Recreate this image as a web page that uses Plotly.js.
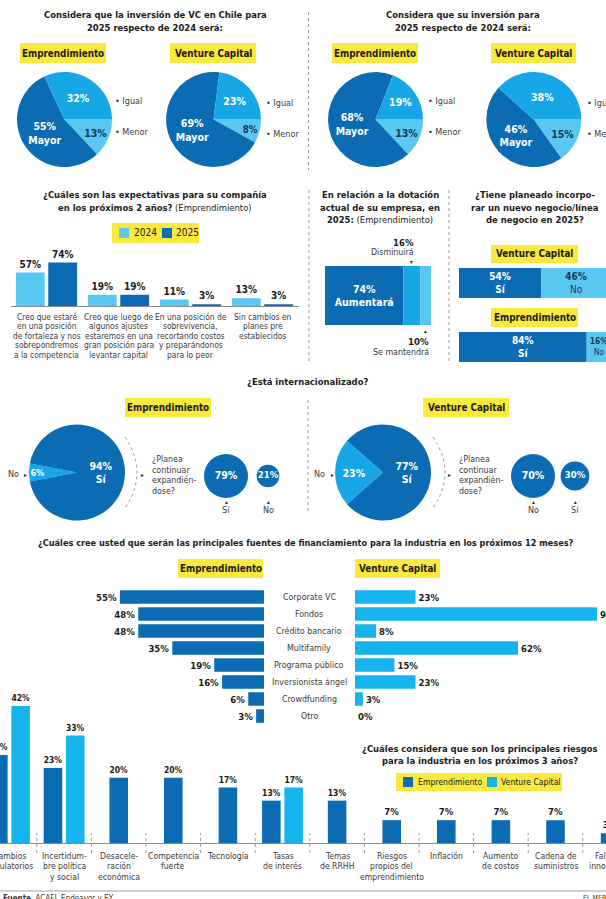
<!DOCTYPE html>
<html><head><meta charset="utf-8">
<script src="https://cdn.plot.ly/plotly-3.0.1.min.js"></script>
<style>
html,body{margin:0;padding:0;overflow:hidden;background:#fff;width:606px;height:899px}
#chart{position:absolute;left:-40px;top:0;width:686px;height:899px}
</style>
</head><body><div id="chart"></div>
<script>
// ---------------- DATA ----------------
const pieLabels = ['Menor', 'Mayor', 'Igual'];
const invChileEmp = [13, 55, 32];
const invChileVC = [8, 69, 23];
const invOwnEmp = [13, 68, 19];
const invOwnVC = [15, 46, 38];

const expCategories = [
  ['Creo que estaré', 'en una posición', 'de fortaleza y nos', 'sobrepondremos', 'a la competencia'],
  ['Creo que luego de', 'algunos ajustes', 'estaremos en una', 'gran posición para', 'levantar capital'],
  ['En una posición de', 'sobrevivencia,', 'recortando costos', 'y preparándonos', 'para lo peor'],
  ['Sin cambios en', 'planes pre', 'establecidos']
];
const exp2024 = [57, 19, 11, 13];
const exp2025 = [74, 19, 3, 3];

const dotLabels = ['Aumentará', 'Disminuirá', 'Se mantendrá'];
const dotValues = [74, 16, 10];

const negGroups = ['Emprendimiento', 'Venture Capital'];
const negSi = [84, 54];
const negNo = [16, 46];

const intLabels = ['No', 'Sí'];
const intEmp = [6, 94];
const intVC = [23, 77];
const expandEmpLabels = ['Sí', 'No'];
const expandEmp = [79, 21];
const expandVCLabels = ['No', 'Sí'];
const expandVC = [70, 30];

const fundCategories = ['Corporate VC', 'Fondos', 'Crédito bancario', 'Multifamily', 'Programa público', 'Inversionista ángel', 'Crowdfunding', 'Otro'];
const fundEmp = [55, 48, 48, 35, 19, 16, 6, 3];
const fundVC = [23, 92, 8, 62, 15, 23, 3, 0];

const riskCategories = [
  ['Cambios', 'regulatorios'], ['Incertidum-', 'bre política', 'y social'], ['Desacele-', 'ración', 'económica'],
  ['Competencia', 'fuerte'], ['Tecnología'], ['Tasas', 'de interés'], ['Temas', 'de RRHH'],
  ['Riesgos', 'propios del', 'emprendimiento'], ['Inflación'], ['Aumento', 'de costos'],
  ['Cadena de', 'suministros'], ['Falta de', 'innovación']
];
const riskEmp = [27, 23, 20, 20, 17, 13, 13, 7, 7, 7, 7, 3];
const riskVC = [42, 33, null, null, null, 17, null, null, null, null, null, null];

// ---------------- HELPERS ----------------
const FONT = 'Liberation Sans Narrow, DejaVu Sans Condensed, Arial Narrow, sans-serif';
const W = 686, H = 899, OX = 40;
const X = p => (p + OX) / W;
const Y = p => 1 - p / H;
const DARK = '#0b6cb3', MED = '#17a6e6', LIGHT = '#58c8f2', CYAN = '#16b4ec', YEL = '#f8e93c';
const INK = '#1b1b1b', TXT = '#3a3a3a', SEP = '#9a9a9a', NAVY = '#17375e';
const TS = 9.4;   // title size
const CS = 8.4;   // caption size

const traces = [], annotations = [], shapes = [];

function note(x, y, text, o = {}) {
  annotations.push({
    xref: o.xref || 'paper', yref: o.yref || 'paper',
    x: o.xref ? x : X(x), y: o.yref ? y : Y(y),
    text, showarrow: false, xanchor: o.xa || 'center', yanchor: 'middle',
    xshift: o.xshift || 0,
    font: {family: FONT, size: o.size || 10, color: o.color || TXT, weight: o.bold ? 'bold' : 'normal'}
  });
}
function block(x, y0, arr, step, o = {}) { arr.forEach((t, k) => note(x, y0 + k * step, t, o)); }
function rect(x0, x1, y0, y1, color) {
  shapes.push({type: 'rect', xref: 'paper', yref: 'paper', x0: X(x0), x1: X(x1), y0: Y(y1), y1: Y(y0),
    fillcolor: color, line: {width: 0}, layer: 'below'});
}
function box(x0, x1, y0, y1, text) {
  rect(x0, x1, y0, y1, YEL);
  if (text) note((x0 + x1) / 2, (y0 + y1) / 2, text, {bold: true, size: 9.8, color: INK});
}
function vsep(x, y0, y1) {
  shapes.push({type: 'line', xref: 'paper', yref: 'paper', x0: X(x), x1: X(x), y0: Y(y0), y1: Y(y1),
    line: {color: SEP, width: 1, dash: 'dot'}});
}
function title(x, y0, lines) { block(x, y0, lines, 12.5, {bold: true, size: TS, color: INK}); }

function pie(values, labels, colors, cx, cy, r, rotation, templates, textColors) {
  traces.push({
    type: 'pie', values, labels, sort: false, direction: 'clockwise', rotation,
    marker: {colors, line: {width: 0}},
    domain: {x: [X(cx - r), X(cx + r)], y: [Y(cy + r), Y(cy - r)]},
    textposition: 'inside', insidetextorientation: 'horizontal',
    texttemplate: templates,
    textfont: {family: FONT, size: 10.5, color: textColors, weight: 'bold'},
    hoverinfo: 'none', showlegend: false
  });
}
const ax = (domain, range, extra = {}) => Object.assign({
  domain, range, showgrid: false, zeroline: false, showticklabels: false, showline: false,
  ticks: '', fixedrange: true
}, extra);
const layout = {
  width: W, height: H, margin: {l: 0, r: 0, t: 0, b: 0},
  paper_bgcolor: '#fff', plot_bgcolor: 'rgba(0,0,0,0)', barmode: 'overlay', showlegend: false,
  font: {family: FONT}
};

// ---------------- SECTION 1: pies ----------------
title(155, 15, ['Considera que la inversión de VC en Chile para', '2025 respecto de 2024 será:']);
title(463, 15, ['Considera que su inversión para', '2025 respecto de 2024 será:']);
vsep(308.5, 12, 170);
box(20, 106, 43, 63, 'Emprendimiento');
box(170, 256, 43, 63, 'Venture Capital');
box(332, 418, 43, 63, 'Emprendimiento');
box(491, 576, 43, 63, 'Venture Capital');

const pieColors = [LIGHT, DARK, MED];
const pieTemplates = pieLabels.map(l => l === 'Mayor' ? '%{value}%<br>%{label}' : '%{value}%');
const pieTextColors = pieLabels.map(l => l === 'Menor' ? NAVY : '#ffffff');
pie(invChileEmp, pieLabels, pieColors, 64.5, 119.5, 47.5, 90, pieTemplates, pieTextColors);
pie(invChileVC, pieLabels, pieColors, 213.5, 119.5, 47.5, 90, pieTemplates, pieTextColors);
pie(invOwnEmp, pieLabels, pieColors, 375.5, 119.5, 47.5, 90, pieTemplates, pieTextColors);
pie(invOwnVC, pieLabels, pieColors, 533.8, 119.5, 47.5, 90, pieTemplates, pieTextColors);
[[113, 101, 132], [264, 103, 134], [426, 101, 132], [585, 103, 134]].forEach(([x, yi, ym]) => {
  note(x, yi, '• Igual', {xa: 'left', size: 9});
  note(x, ym, '• Menor', {xa: 'left', size: 9});
});

// ---------------- SECTION 2: expectativas ----------------
block(155, 195, ['<b>¿Cuáles son las expectativas para su compañía</b>', '<b>en los próximos 2 años?</b> (Emprendimiento)'], 12, {size: TS, color: INK});
box(112, 199, 223, 243, '');
rect(119, 129, 228, 238, LIGHT);
note(132, 233, '2024', {xa: 'left', size: 10, color: INK});
rect(162, 172, 228, 238, DARK);
note(174, 233, '2025', {xa: 'left', size: 10, color: INK});

const expKeys = exp2024.map((_, i) => i);
const barText = {family: FONT, size: 10, color: INK, weight: 'bold'};
traces.push({type: 'bar', x: expKeys, y: exp2024, xaxis: 'x', yaxis: 'y', width: 0.4, offset: -0.425,
  marker: {color: LIGHT}, texttemplate: '%{y}%', textposition: 'outside', textfont: barText,
  cliponaxis: false, hoverinfo: 'none', name: '2024'});
traces.push({type: 'bar', x: expKeys, y: exp2025, xaxis: 'x', yaxis: 'y', width: 0.4, offset: 0.025,
  marker: {color: DARK}, texttemplate: '%{y}%', textposition: 'outside', textfont: barText,
  cliponaxis: false, hoverinfo: 'none', name: '2025'});
layout.xaxis = ax([X(10.5), X(298.5)], [-0.5, 3.5], {anchor: 'y', showline: true, linecolor: '#8a8a8a', linewidth: 1});
layout.yaxis = ax([Y(306), Y(259)], [0, 80], {anchor: 'x'});
expCategories.forEach((lines, i) => block(i, 317, lines, 9.4, {xref: 'x', size: CS}));

// dotación
vsep(309, 190, 362);
vsep(449, 190, 362);
block(380, 195, ['<b>En relación a la dotación</b>', '<b>actual de su empresa, en</b>', '<b>2025:</b> (Emprendimiento)'], 12, {size: TS, color: INK});
const dotColors = [DARK, MED, LIGHT];
let acc = 0;
const dotBase = dotValues.map(v => { const b = acc; acc += v; return b; });
dotValues.forEach((v, i) => {
  traces.push({type: 'bar', orientation: 'h', y: [0], x: [v], base: [dotBase[i]], xaxis: 'x2', yaxis: 'y2',
    width: 1, marker: {color: dotColors[i], line: {width: 0}},
    text: i === 0 ? [`<b>${v}%<br>${dotLabels[i]}</b>`] : [''], textposition: 'inside', insidetextanchor: 'middle',
    textangle: 0, textfont: {family: FONT, size: 10.5, color: '#fff'}, hoverinfo: 'none', name: dotLabels[i]});
});
layout.xaxis2 = ax([X(325), X(431)], [0, 100], {anchor: 'y2'});
layout.yaxis2 = ax([Y(325), Y(266)], [-0.5, 0.5], {anchor: 'x2'});
const c1 = dotBase[1] + dotValues[1] / 2, c2 = dotBase[2] + dotValues[2] / 2;
note(c1, 242, `<b>${dotValues[1]}%</b>`, {xref: 'x2', xa: 'right', xshift: 4, size: 9.5, color: INK});
note(c1, 252, dotLabels[1], {xref: 'x2', xa: 'right', xshift: 4, size: CS + 0.4});
note(c1, 261.5, '▾', {xref: 'x2', size: 6, color: INK});
note(c2, 330.5, '▴', {xref: 'x2', size: 6, color: INK});
note(100, 341, `<b>${dotValues[2]}%</b>`, {xref: 'x2', xa: 'right', size: 9.5, color: INK});
note(100, 352, dotLabels[2], {xref: 'x2', xa: 'right', size: CS + 0.4});

// nuevo negocio
title(535, 195, ['¿Tiene planeado incorpo-', 'rar un nuevo negocio/línea', 'de negocio en 2025?']);
box(491, 578, 245, 263, 'Venture Capital');
box(491, 578, 308, 327, 'Emprendimiento');
const negKeys = negGroups.map((_, i) => i);
traces.push({type: 'bar', orientation: 'h', y: negKeys, x: negSi, base: negSi.map(() => 0), xaxis: 'x3', yaxis: 'y3',
  width: 0.47, marker: {color: DARK}, text: negSi.map(v => `<b>${v}%<br>Sí</b>`), textposition: 'inside',
  insidetextanchor: 'middle', textangle: 0, textfont: {family: FONT, size: 10, color: '#fff'}, hoverinfo: 'none', cliponaxis: false});
traces.push({type: 'bar', orientation: 'h', y: negKeys, x: negNo, base: negSi, xaxis: 'x3', yaxis: 'y3',
  width: 0.47, marker: {color: LIGHT}, text: negNo.map(v => `<b>${v}%</b><br>No`), textposition: 'inside',
  insidetextanchor: 'middle', textangle: 0, textfont: {family: FONT, size: 10, color: NAVY}, hoverinfo: 'none', cliponaxis: false});
layout.xaxis3 = ax([X(459), X(611)], [0, 100], {anchor: 'y3'});
layout.yaxis3 = ax([Y(379), Y(251)], [-0.5, 1.5], {anchor: 'x3'});

// ---------------- SECTION 3: internacionalizado ----------------
note(307, 381, '¿Está internacionalizado?', {bold: true, size: TS, color: INK});
box(125, 211, 398, 417, 'Emprendimiento');
box(423, 509, 398, 417, 'Venture Capital');
vsep(308, 400, 513);
const intTemplates = intLabels.map(l => l === 'Sí' ? '%{value}%<br>%{label}' : '%{value}%');
pie(intEmp, intLabels, [MED, DARK], 77, 472.5, 48, 270 - intEmp[0] * 1.8, intTemplates, ['#fff', '#fff']);
pie(intVC, intLabels, [MED, DARK], 383, 472.5, 48, 270 - intVC[0] * 1.8, intTemplates, ['#fff', '#fff']);
note(21, 474, 'No', {xa: 'right', size: 9});
note(25, 474, '▸', {size: 6, color: INK});
note(327, 474, 'No', {xa: 'right', size: 9});
note(332, 474, '▸', {size: 6, color: INK});

function arc(x, cx) {
  shapes.push({type: 'path', xref: 'paper', yref: 'paper',
    path: `M ${X(x)} ${Y(437)} Q ${X(cx)} ${Y(472.5)} ${X(x)} ${Y(508)}`,
    line: {color: SEP, width: 1, dash: 'dot'}});
}
arc(125, 149);
arc(433, 457);
note(142, 474, '▸', {size: 6, color: INK});
note(449, 474, '▸', {size: 6, color: INK});
block(150, 459, ['¿Planea', 'continuar', 'expandién-', 'dose?'], 10.7, {xa: 'left', size: 8.8});
block(457, 459, ['¿Planea', 'continuar', 'expandién-', 'dose?'], 10.7, {xa: 'left', size: 8.8});

function bubbles(labels, values, xa, ya) {
  const keys = values.map((_, i) => i);
  const vmax = Math.max(...values);
  traces.push({type: 'scatter', mode: 'markers+text', x: keys, y: keys.map(() => 0), xaxis: xa, yaxis: ya,
    marker: {size: values, sizemode: 'area', sizeref: vmax / (2 * 22 * 22), color: DARK, opacity: 1, line: {width: 0}},
    text: values.map(v => `<b>${v}%</b>`), textposition: 'middle center',
    textfont: {family: FONT, size: values.map(v => v === vmax ? 10.5 : 9.5), color: '#fff'},
    cliponaxis: false, hoverinfo: 'none'});
  labels.forEach((l, i) => {
    note(i, 501, '▴', {xref: xa, size: 6, color: INK});
    note(i, 510, l, {xref: xa, size: 9});
  });
}
bubbles(expandEmpLabels, expandEmp, 'x4', 'y4');
bubbles(expandVCLabels, expandVC, 'x5', 'y5');
layout.xaxis4 = ax([X(205), X(289)], [-0.5, 1.5], {anchor: 'y4'});
layout.yaxis4 = ax([Y(497), Y(455)], [-1, 1], {anchor: 'x4'});
layout.xaxis5 = ax([X(512), X(596)], [-0.5, 1.5], {anchor: 'y5'});
layout.yaxis5 = ax([Y(497), Y(455)], [-1, 1], {anchor: 'x5'});

// ---------------- SECTION 4: financiamiento ----------------
note(306, 543, '¿Cuáles cree usted que serán las principales fuentes de financiamiento para la industria en los próximos 12 meses?', {bold: true, size: 9.1, color: INK});
box(178, 263, 559, 578, 'Emprendimiento');
box(355, 440, 559, 578, 'Venture Capital');
const fundKeys = fundCategories.map((_, i) => i);
const fText = {family: FONT, size: 9.5, color: INK, weight: 'bold'};
traces.push({type: 'bar', orientation: 'h', y: fundKeys, x: fundEmp, xaxis: 'x6', yaxis: 'y6', width: 0.78,
  marker: {color: DARK}, texttemplate: '%{x}%', textposition: 'outside', textfont: fText, cliponaxis: false, hoverinfo: 'none'});
traces.push({type: 'bar', orientation: 'h', y: fundKeys, x: fundVC, xaxis: 'x7', yaxis: 'y7', width: 0.78,
  marker: {color: CYAN}, texttemplate: '%{x}%', textposition: 'outside', textfont: fText, cliponaxis: false, hoverinfo: 'none'});
layout.xaxis6 = ax([X(2), X(264)], [100, 0], {anchor: 'y6'});
layout.yaxis6 = ax([Y(724.5), Y(588.5)], [7.5, -0.5], {anchor: 'x6'});
layout.xaxis7 = ax([X(355), X(618)], [0, 100], {anchor: 'y7'});
layout.yaxis7 = ax([Y(724.5), Y(588.5)], [7.5, -0.5], {anchor: 'x7'});
fundCategories.forEach((c, i) => note(309, i, c, {yref: 'y6', size: 8.8}));

// ---------------- SECTION 5: riesgos ----------------
title(480, 748, ['¿Cuáles considera que son los principales riesgos', 'para la industria en los próximos 3 años?']);
box(396, 562, 773, 791, '');
rect(403, 413, 777, 787, DARK);
note(416, 782, 'Emprendimiento', {xa: 'left', size: 8.6, color: INK});
rect(487, 497, 777, 787, CYAN);
note(499, 782, 'Venture Capital', {xa: 'left', size: 8.6, color: INK});

const riskKeys = riskEmp.map((_, i) => i);
traces.push({type: 'bar', x: riskKeys, y: riskEmp, xaxis: 'x8', yaxis: 'y8', width: 0.34,
  offset: riskVC.map(v => v == null ? -0.17 : -0.374), marker: {color: DARK},
  texttemplate: '%{y}%', textposition: 'outside', textfont: fText, cliponaxis: false, hoverinfo: 'none'});
const vcKeys = riskKeys.filter(i => riskVC[i] != null);
traces.push({type: 'bar', x: vcKeys, y: vcKeys.map(i => riskVC[i]), xaxis: 'x8', yaxis: 'y8', width: 0.34,
  offset: 0.034, marker: {color: CYAN},
  texttemplate: '%{y}%', textposition: 'outside', textfont: fText, cliponaxis: false, hoverinfo: 'none'});
layout.xaxis8 = ax([X(-17.8), X(637.4)], [-0.5, 11.5], {anchor: 'y8', showline: true, linecolor: '#8a8a8a', linewidth: 1});
layout.yaxis8 = ax([Y(843), Y(696.3)], [0, 45], {anchor: 'x8'});
riskCategories.forEach((lines, i) => block(i, 856, lines, 10.3, {xref: 'x8', size: CS + 0.2}));
riskKeys.slice(0, -1).forEach(i => shapes.push({type: 'line', xref: 'x8', yref: 'paper', x0: i + 0.5, x1: i + 0.5,
  y0: Y(853), y1: Y(833), line: {color: SEP, width: 1, dash: 'dot'}}));

// footer
shapes.push({type: 'line', xref: 'paper', yref: 'paper', x0: X(-5), x1: X(615), y0: Y(891), y1: Y(891), line: {color: '#d0d0d0', width: 2}});
note(1, 898, '<b>Fuente</b>. ACAFI, Endeavor y EY.', {xa: 'left', size: 8});
note(581, 898, 'EL MERCURIO', {xa: 'left', size: 7});

layout.annotations = annotations;
layout.shapes = shapes;
Plotly.newPlot('chart', traces, layout, {staticPlot: true, displayModeBar: false});
</script>
</body></html>
